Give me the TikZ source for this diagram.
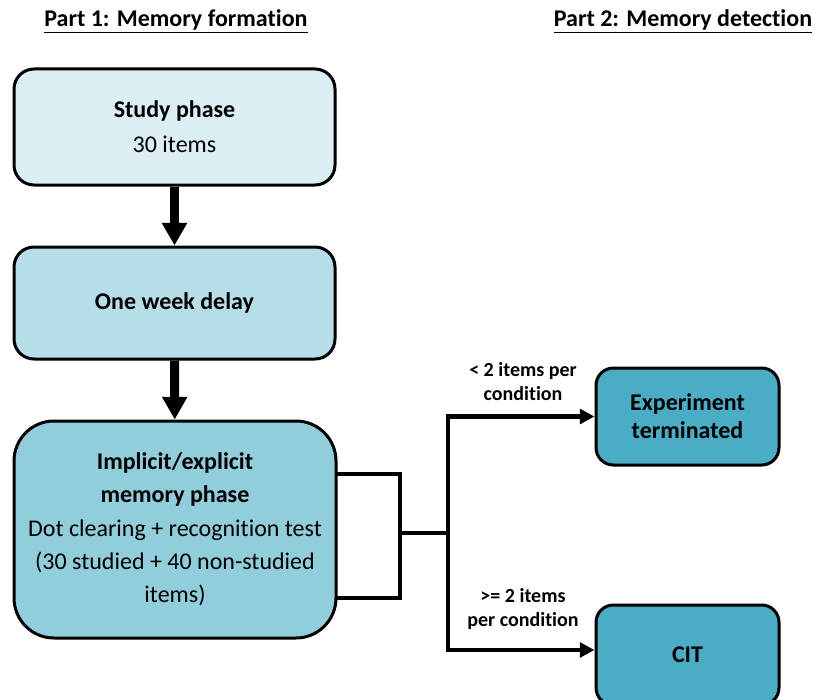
\documentclass[tikz,border=0pt]{standalone}
\usepackage{fontspec}
\setmainfont[Ligatures=NoCommon]{Carlito}
\usetikzlibrary{arrows.meta}
\definecolor{studycol}{HTML}{DAEEF3}
\definecolor{delaycol}{HTML}{B7DEE8}
\definecolor{memcol}{HTML}{92CDDC}
\definecolor{detectcol}{HTML}{4BACC6}
\tikzset{
    phasebox/.style={draw=black, line width=2.25pt, align=center, inner sep=0pt, font=\fontsize{18}{26}\selectfont},
    parttitle/.style={font=\bfseries\fontsize{18}{22}\selectfont},
    condlabel/.style={align=center, font=\bfseries\fontsize{15}{18}\selectfont},
    bigarrow/.style={line width=6.75pt, -{Triangle[length=17pt,width=18pt]}},
    branch/.style={line width=3.5pt, line cap=rect},
    brancharrow/.style={line width=3.5pt, -{Triangle[length=11pt,width=11pt]}},
}

\begin{document}
\begin{tikzpicture}[x=0.75pt,y=0.75pt,yscale=-1,xscale=1]
\useasboundingbox (0,0) rectangle (813,699);

%Text: part titles
\node[parttitle] (part1) at (176,21) {\underline{Part 1: Memory formation}};
\node[parttitle] (part2) at (683,21) {\underline{Part 2: Memory detection}};

%Shape: Rounded Rect [study]
\node[phasebox, fill=studycol, rounded corners=15pt, minimum width=240.75pt, minimum height=87pt] (study) at (174.5,127) {\textbf{Study phase}\\30 items};
%Shape: Rounded Rect [delay]
\node[phasebox, fill=delaycol, rounded corners=15pt, minimum width=240.75pt, minimum height=84pt] (delay) at (174.5,303) {\textbf{One week delay}};
%Shape: Rounded Rect [memory phase]
\node[phasebox, fill=memcol, rounded corners=30pt, minimum width=241.5pt, minimum height=162.75pt, font=\fontsize{18}{25}\selectfont] (memphase) at (175,529.5) {\textbf{Implicit/explicit}\\\textbf{memory phase}\\Dot clearing + recognition test\\(30 studied + 40 non-studied\\items)};
%Shape: Rounded Rect [terminated]
\node[phasebox, fill=detectcol, rounded corners=13pt, minimum width=137.25pt, minimum height=72.75pt, font=\bfseries\fontsize{18}{21}\selectfont] (term) at (687.5,416.5) {Experiment\\terminated};
%Shape: Rounded Rect [CIT]
\node[phasebox, fill=detectcol, rounded corners=13pt, minimum width=137.25pt, minimum height=75pt] (cit) at (687.5,655) {\textbf{CIT}};

%Straight Lines [id:phase arrows]
\draw[bigarrow] (study) -- (delay);
\draw[bigarrow] (delay) -- (memphase);

%Straight Lines [id:bracket]
\coordinate (brtop) at (400,474);
\coordinate (brbot) at (400,598);
\coordinate (fork) at (448,533);
\draw[branch] (memphase.east |- brtop) -- (brtop) -- (brbot) -- (memphase.east |- brbot);
\draw[branch] (brtop |- fork) -- (fork);
\draw[brancharrow] (fork) |- (term.west);
\draw[brancharrow] (fork) |- ([yshift=-3.75pt]cit.west);

%Text: conditions
\node[condlabel] (lowlabel) at (523,382) {< 2 items per\\condition};
\node[condlabel] (highlabel) at (523,609) {>= 2 items\\per condition};

\end{tikzpicture}
\end{document}
